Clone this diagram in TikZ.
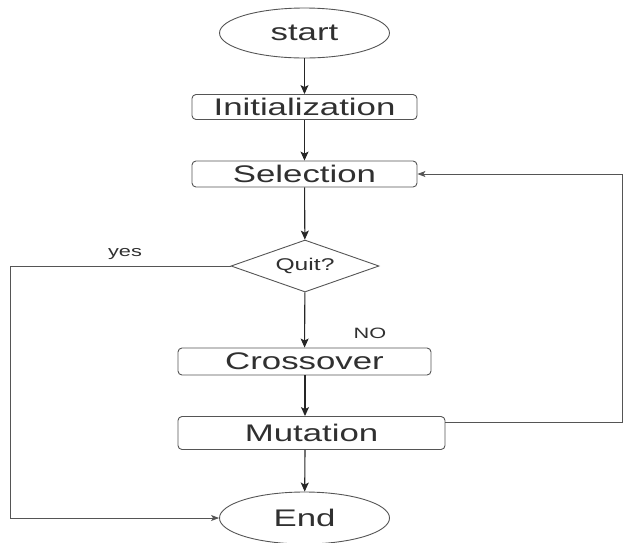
\documentclass[tikz,border=0pt]{standalone}
\usepackage{fontspec}
\setmainfont{Liberation Sans}
\usetikzlibrary{shapes.geometric,arrows.meta}
\definecolor{ink}{HTML}{262626}
\definecolor{txt}{HTML}{303030}
\definecolor{edge}{HTML}{555555}
\newcommand{\wide}[1]{\scalebox{1.45}[1]{#1}}
\begin{document}
\begin{tikzpicture}[x=1pt,y=-1pt,
  every node/.style={text=txt},
  term/.style={ellipse,draw=edge,line width=0.9pt,minimum width=170pt,minimum height=50pt,inner sep=0pt,font=\fontsize{24}{28}\selectfont},
  proc/.style={rectangle,rounded corners=4pt,draw=edge,line width=0.9pt,inner sep=0pt,font=\fontsize{24}{28}\selectfont},
  dec/.style={diamond,draw=edge,line width=0.9pt,shape aspect=2.85,minimum width=148pt,minimum height=52pt,inner sep=0pt,font=\fontsize{17}{20}\selectfont},
  lab/.style={font=\fontsize{15}{18}\selectfont,inner sep=0pt},
  flow/.style={draw=ink,line width=1.1pt,-{Stealth[length=9pt,width=8pt,inset=2pt]}},
  loop/.style={draw=edge,line width=0.8pt}
]
\useasboundingbox (0,0) rectangle (624,542);
\node[term] (start) at (304.5,33) {\wide{start}};
\node[proc,minimum width=225pt,minimum height=25pt] (init) at (304.5,107) {\wide{Initialization}};
\node[proc,minimum width=225pt,minimum height=26pt] (sel) at (304.5,174) {\wide{Selection}};
\node[dec] (quit) at (305,266) {\wide{Quit?}};
\node[proc,minimum width=253pt,minimum height=27pt] (cross) at (304.5,361.5) {\wide{Crossover}};
\node[proc,minimum width=267pt,minimum height=33pt] (mut) at (311.5,433) {\wide{Mutation}};
\node[term,minimum height=52pt] (end) at (304.5,518) {\wide{End}};
\node[lab] (yes) at (125,254) {\wide{yes}};
\node[lab] (no) at (370,333) {\wide{NO}};
\coordinate (lt) at (10,266);
\coordinate (lb) at (10,518);
\coordinate (rt) at (622,174);
\coordinate (rb) at (622,422);

\draw[flow] (start) -- (init);
\draw[flow] (init) -- (sel);
\draw[flow] (sel) -- (quit);
\draw[flow] (quit) -- (cross);
\draw[flow] (cross.south -| quit) -- (mut.north -| quit);
\draw[flow] (mut.south -| quit) -- (end);
\draw[loop,-{Stealth[length=8pt,width=6pt,inset=2pt]}] ([yshift=11pt]mut.east) -- (rb) -- (rt) -- (sel.east);
\draw[loop,-{Stealth[length=8pt,width=6pt,inset=2pt]}] (quit.west) -- (lt) -- (lb) -- (end.west);
\end{tikzpicture}
\end{document}
